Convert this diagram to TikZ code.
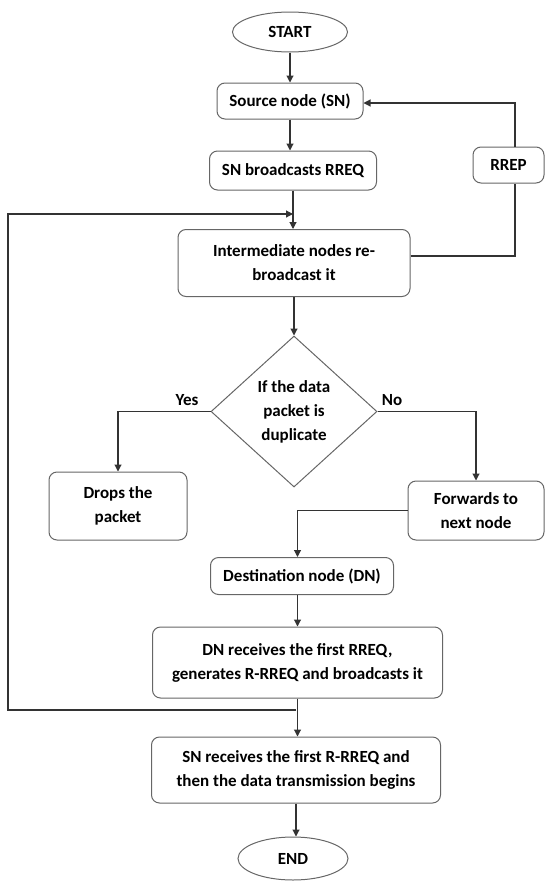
\documentclass[tikz,border=0pt]{standalone}
\usepackage{fontspec}
\setmainfont{Carlito}
\usetikzlibrary{shapes.geometric,arrows.meta}
\definecolor{boxgray}{HTML}{666666}
\definecolor{linegray}{HTML}{333333}
\begin{document}
\begin{tikzpicture}[x=1pt,y=-1pt,
  every node/.style={font=\fontsize{17}{24}\selectfont\bfseries, align=center, inner sep=0pt},
  box/.style={draw=boxgray, line width=1pt, rounded corners=8pt},
  term/.style={ellipse, draw=boxgray, line width=1pt},
  dia/.style={diamond, draw=boxgray, line width=1pt},
  arr/.style={draw=linegray, line width=1.1pt, -{Triangle[length=7pt,width=7pt]}},
  ln/.style={draw=linegray, line width=1.1pt}]
\useasboundingbox (0,0) rectangle (545,881);

\node[term, minimum width=115pt, minimum height=40pt] (start) at (290,32) {START};
\node[box, minimum width=146pt, minimum height=36pt] (source) at (290,101) {Source node (SN)};
\node[box, minimum width=167pt, minimum height=39pt] (snb) at (293,170.5) {SN broadcasts RREQ};
\node[box, minimum width=71pt, minimum height=36pt] (rrep) at (508.5,165) {RREP};
\node[box, minimum width=232pt, minimum height=67pt] (inter) at (294,263) {Intermediate nodes re-\\broadcast it};
\node[dia, minimum width=166pt, minimum height=151pt] (dia) at (294,411.5) {If the data\\packet is\\duplicate};
\node[box, minimum width=138pt, minimum height=68pt] (drops) at (118,506) {Drops the\\packet};
\node[box, minimum width=136pt, minimum height=59pt] (fwd) at (476,510.5) {Forwards to\\next node};
\node[box, minimum width=183pt, minimum height=37pt] (dest) at (302,576) {Destination node (DN)};
\node[box, minimum width=290pt, minimum height=71pt] (dnr) at (297.5,662.5) {DN receives the first RREQ,\\generates R-RREQ and broadcasts it};
\node[box, minimum width=289pt, minimum height=66pt] (snr) at (296,770) {SN receives the first R-RREQ and\\then the data transmission begins};
\node[term, minimum width=110pt, minimum height=43pt] (end) at (293,858.5) {END};
\node (yes) at (187,400) {Yes};
\node (no) at (392,400) {No};

\coordinate (jtop) at (293,214);
\coordinate (jbot) at (296,710);
\coordinate (lbot) at (8,710);
\coordinate (rb) at (515,256);
\coordinate (rt) at (515,103);

\draw[arr] (start) -- (start |- source.north);
\draw[arr] (source) -- (source |- snb.north);
\draw[arr] (snb) -- (snb |- inter.north);
\draw[arr] (inter) -- (inter |- dia.north);
\draw[arr] (dia.west) -| (drops.north);
\draw[arr] (dia.east) -| (fwd.north);
\draw[arr] (fwd.west) -| (dest.north -| dnr);
\draw[arr] (dest.south -| dnr) -- (dnr.north);
\draw[arr] (dnr) -- (dnr |- snr.north);
\draw[arr] (snr) -- (snr.south |- end.north);
\draw[arr] (jbot) -- (lbot) |- (jtop);
\draw[ln] (inter.east |- rb) -- (rb) -- (rrep.south -| rb);
\draw[arr] (rrep.north -| rb) -- (rt) -- (source.east |- rt);
\end{tikzpicture}
\end{document}
